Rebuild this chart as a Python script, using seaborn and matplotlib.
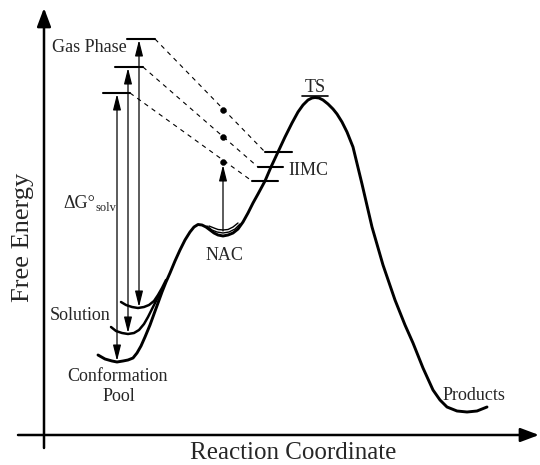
import matplotlib
matplotlib.use('Agg')
import matplotlib.pyplot as plt
import seaborn as sns

# main reaction path (pixel-like units, y grows downward)
path_x = [98, 105, 112, 117, 123, 128, 133, 137, 141, 145, 150, 154, 158, 162, 166, 170, 175, 180,
          185, 190, 194, 198, 202, 206, 210, 214, 218, 223, 228, 233, 238, 243, 248, 253, 258, 265,
          271, 278, 285, 292, 298, 303, 308, 312, 315, 319, 323, 328, 333, 337, 342, 347, 353, 362,
          372, 383, 395, 405, 413, 423, 433, 440, 447, 457, 467, 477, 487]
path_y = [355, 359, 361, 362, 361, 360, 358, 353, 346, 337, 325, 314, 303, 292, 282, 273, 261, 250,
          240, 232, 227, 224.5, 225, 227, 230, 233, 235, 236, 235, 233, 229, 222, 213, 203, 194, 181,
          167, 152, 137, 123, 112, 105, 100, 98, 97.5, 98, 100, 104, 109, 114, 122, 132, 147, 184,
          227, 265, 300, 325, 343, 368, 390, 400, 407, 411, 412, 411, 407]

# the two upper "Solution" wells that merge into the rising wall
well_mid_x = [111, 116, 122, 128, 134, 139, 144, 148, 152, 156, 160]
well_mid_y = [327, 331, 333, 334, 333, 330, 324, 317, 309, 301, 293]
well_top_x = [121, 126, 132, 138, 144, 149, 154, 158, 162, 166]
well_top_y = [302, 305, 307, 308, 307, 305, 301, 295, 288, 280]

# NAC sub-wells
nac_a_x = [207, 212, 217, 223, 229, 235, 240]
nac_a_y = [226, 230, 232, 233, 232, 229, 224]
nac_b_x = [209, 214, 218, 223, 228, 233, 238]
nac_b_y = [226, 228, 229.5, 230, 229.5, 227, 223]

# gas phase levels (left, right, y) and the matching IIMC levels
gas_x0 = [127, 115, 103]
gas_x1 = [155, 143, 130]
gas_y = [39, 67, 93]
iimc_x0 = [265, 258, 252]
iimc_x1 = [292, 283, 278]
iimc_y = [152, 167, 181]
solution_y = [307, 333, 361]
arrow_x = [139, 128, 117]
dot_x = 223
dot_y = [110, 137, 162]

fs_lab = 13
fs_axis = 18

sns.set_style('white')
plt.rcParams['font.family'] = ['Liberation Serif', 'DejaVu Serif']

fig = plt.figure(figsize=(5.4, 4.65), dpi=100)
ax = fig.add_axes([0, 0, 1, 1])
ax.set_xlim(0, 540)
ax.set_ylim(465, 0)
ax.axis('off')

# axes with arrows
axis_style = '-|>,head_length=0.8,head_width=0.3'
ax.annotate('', xy=(44, 8), xytext=(44, 448),
            arrowprops=dict(arrowstyle=axis_style, color='black', lw=1.8, mutation_scale=14,
                            shrinkA=0, shrinkB=0))
ax.annotate('', xy=(539, 435), xytext=(18, 435),
            arrowprops=dict(arrowstyle=axis_style, color='black', lw=1.8, mutation_scale=14,
                            shrinkA=0, shrinkB=0))

# energy profile
sns.lineplot(x=path_x, y=path_y, sort=False, color='black', lw=2.1, ax=ax)
sns.lineplot(x=well_mid_x, y=well_mid_y, sort=False, color='black', lw=1.8, ax=ax)
sns.lineplot(x=well_top_x, y=well_top_y, sort=False, color='black', lw=1.8, ax=ax)
sns.lineplot(x=nac_a_x, y=nac_a_y, sort=False, color='black', lw=1.0, ax=ax)
sns.lineplot(x=nac_b_x, y=nac_b_y, sort=False, color='black', lw=1.0, ax=ax)

# levels, dashed correlation lines, double arrows
arrow2 = '<|-|>,head_length=0.8,head_width=0.2'
for i in range(3):
    ax.plot([gas_x0[i], gas_x1[i]], [gas_y[i], gas_y[i]], color='black', lw=1.5)
    ax.plot([iimc_x0[i], iimc_x1[i]], [iimc_y[i], iimc_y[i]], color='black', lw=1.5)
    ax.plot([gas_x1[i], iimc_x0[i]], [gas_y[i], iimc_y[i]], color='black', lw=0.8,
            linestyle=(0, (4, 4)))
    ax.annotate('', xy=(arrow_x[i], gas_y[i] + 1), xytext=(arrow_x[i], solution_y[i]),
                arrowprops=dict(arrowstyle=arrow2, color='black', lw=0.9, mutation_scale=12,
                                shrinkA=0, shrinkB=0))
sns.scatterplot(x=[dot_x] * 3, y=dot_y, color='black', s=18, edgecolor='black', ax=ax)

# NAC -> IIMC arrow
ax.annotate('', xy=(dot_x, 165), xytext=(dot_x, 231),
            arrowprops=dict(arrowstyle='-|>,head_length=0.8,head_width=0.2', color='black',
                            lw=0.9, mutation_scale=12, shrinkA=0, shrinkB=0))

# TS bar
ax.plot([302, 328], [96, 96], color='black', lw=1.2)

# labels
ax.text(127, 47, 'Gas Phase', fontsize=fs_lab, ha='right', va='center')
ax.text(63, 203, 'ΔG°', fontsize=fs_lab, ha='left', va='center')
ax.text(95, 208, 'solv', fontsize=9, ha='left', va='center')
ax.text(50, 315, 'Solution', fontsize=fs_lab, ha='left', va='center')
ax.text(118, 376, 'Conformation', fontsize=fs_lab, ha='center', va='center')
ax.text(119, 396, 'Pool', fontsize=fs_lab, ha='center', va='center')
ax.text(224, 255, 'NAC', fontsize=fs_lab, ha='center', va='center')
ax.text(288, 170, 'IIMC', fontsize=fs_lab, ha='left', va='center')
ax.text(315, 88, 'TS', fontsize=fs_lab, ha='center', va='center')
ax.text(474, 395, 'Products', fontsize=fs_lab, ha='center', va='center')
ax.text(23, 237, 'Free Energy', fontsize=fs_axis + 1, rotation=90, ha='center', va='center')
ax.text(293, 453, 'Reaction Coordinate', fontsize=fs_axis, ha='center', va='center')

fig.savefig('out.png', dpi=100)
